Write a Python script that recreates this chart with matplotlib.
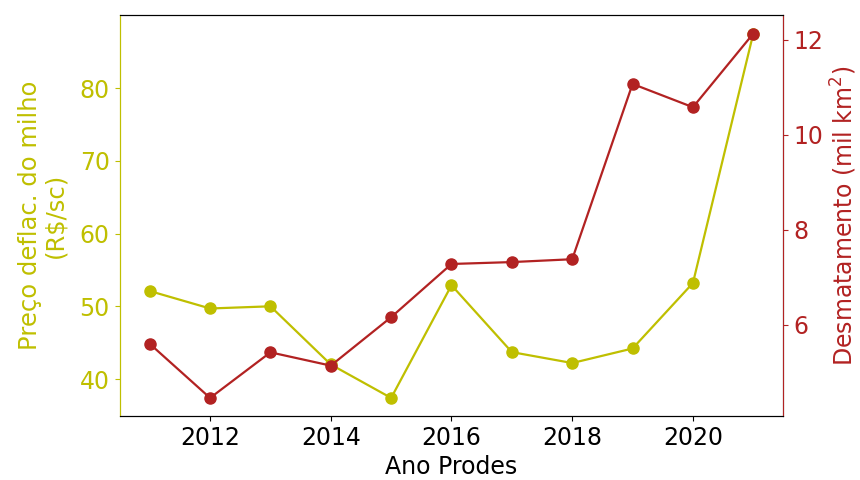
import matplotlib
matplotlib.use("Agg")
import matplotlib.pyplot as plt
from matplotlib.ticker import MultipleLocator

years = [2011, 2012, 2013, 2014, 2015, 2016, 2017, 2018, 2019, 2020, 2021]
corn_price = [52.1, 49.7, 50.0, 42.0, 37.4, 52.9, 43.7, 42.2, 44.2, 53.2, 87.5]
deforestation = [5.60, 4.46, 5.42, 5.14, 6.16, 7.28, 7.32, 7.38, 11.07, 10.58, 12.13]
corn_ticks = [40, 50, 60, 70, 80]

c_yel = "#bfbf00"
c_red = "#b22222"
fs = 17

fig, ax1 = plt.subplots(figsize=(8.6, 4.8), dpi=100)
fig.subplots_adjust(left=0.139, right=0.911, top=0.968, bottom=0.133)

ax1.plot(years, corn_price, color=c_yel, marker="o", markersize=8, linewidth=1.6)
ax1.set_yticks(corn_ticks)
ax1.set_xlabel("Ano Prodes", fontsize=fs)
ax1.set_ylabel("Preço deflac. do milho\n(R\\$/sc)", color=c_yel, fontsize=17.5,
               labelpad=9, linespacing=1.05)
ax1.tick_params(axis="y", colors=c_yel, labelsize=fs)
ax1.tick_params(axis="x", labelsize=fs)
ax1.spines["left"].set_color(c_yel)

ax2 = ax1.twinx()
ax2.plot(years, deforestation, color=c_red, marker="o", markersize=8, linewidth=1.6)
ax2.yaxis.set_major_locator(MultipleLocator(2))
ax2.set_ylabel("Desmatamento (mil km$^2$)", color=c_red, fontsize=fs)
ax2.tick_params(axis="y", colors=c_red, labelsize=fs)
ax2.spines["right"].set_color(c_red)
ax2.spines["left"].set_color(c_yel)

fig.savefig("out.png", dpi=100)
